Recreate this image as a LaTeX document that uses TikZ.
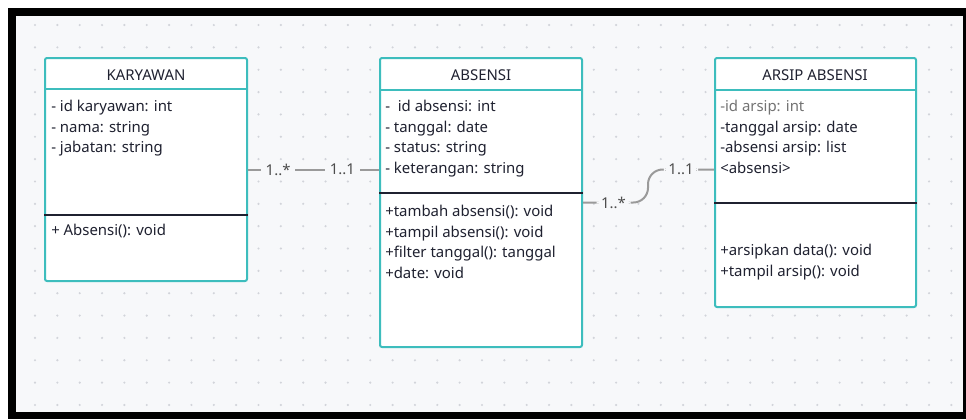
\documentclass[tikz,border=0pt]{standalone}
\usepackage{fontspec}
\setmainfont{Noto Sans}
\usetikzlibrary{fit}

\definecolor{umlteal}{HTML}{3DBDBD}
\definecolor{canvas}{HTML}{F7F8FA}
\definecolor{inkc}{HTML}{1F2130}
\definecolor{wiregray}{HTML}{9A9A9A}
\definecolor{dotgray}{HTML}{D2D4DA}

\begin{document}
\begin{tikzpicture}[
        x=0.75pt, y=-0.75pt,
        classbox/.style={draw=umlteal, line width=1.5pt, fill=white, rounded corners=1.5pt, inner sep=0pt},
        headline/.style={umlteal, line width=1.5pt},
        sepline/.style={inkc, line width=1.5pt},
        classname/.style={font=\fontsize{11.2}{13}\selectfont, text=inkc, inner sep=0pt},
        members/.style={anchor=north west, align=left, inner sep=0pt, text=inkc, font=\fontsize{11.2}{15.5}\selectfont},
        wire/.style={draw=wiregray, line width=1.5pt},
        mult/.style={fill=canvas, text=black!70, inner xsep=3.5pt, inner ysep=2pt, font=\fontsize{11.2}{13}\selectfont}
    ]
        \useasboundingbox (0,0) rectangle (966,419);

        % Frame and dotted canvas
        \fill[black] (8,8) rectangle (966,419);
        \fill[canvas] (16,16) rectangle (963,412);
        \foreach \i in {0,...,41}
            \foreach \j in {0,...,17}
                \fill[dotgray] (35+22.35*\i, 25+22.35*\j) circle[radius=0.9pt];

        % Class KARYAWAN
        \node[classbox, fit={(45,58) (247,281)}] (kary) {};
        \draw[headline] (kary.west |- 0,89) -- (kary.east |- 0,89);
        \draw[sepline] (kary.west |- 0,215) -- (kary.east |- 0,215);
        \node[classname] (kary-name) at (146,75) {KARYAWAN};
        \node[members] (kary-attr) at (51,100) {- id karyawan: int\\- nama: string\\- jabatan: string};
        \node[members] (kary-ops) at (51,224) {+ Absensi(): void};

        % Class ABSENSI
        \node[classbox, fit={(380,58) (582,347)}] (absensi) {};
        \draw[headline] (absensi.west |- 0,90) -- (absensi.east |- 0,90);
        \draw[sepline] (absensi.west |- 0,193) -- (absensi.east |- 0,193);
        \node[classname] (absensi-name) at (481,75) {ABSENSI};
        \node[members] (absensi-attr) at (385,100) {-\ \ id absensi: int\\- tanggal: date\\- status: string\\- keterangan: string};
        \node[members] (absensi-ops) at (385,205) {+tambah absensi(): void\\+tampil absensi(): void\\+filter tanggal(): tanggal\\+date: void};

        % Class ARSIP ABSENSI
        \node[classbox, fit={(715,58) (916,307)}] (arsip) {};
        \draw[headline] (arsip.west |- 0,90) -- (arsip.east |- 0,90);
        \draw[sepline] (arsip.west |- 0,203) -- (arsip.east |- 0,203);
        \node[classname] (arsip-name) at (815,75) {ARSIP ABSENSI};
        \node[members] (arsip-attr) at (720,100) {\textcolor{black!55}{-id arsip: int}\\-tanggal arsip: date\\-absensi arsip: list\\<absensi>};
        \node[members] (arsip-ops) at (720,244) {+arsipkan data(): void\\+tampil arsip(): void};

        % Associations
        \coordinate (bend) at (648,0);
        \draw[wire] (kary.east) -- node[mult, pos=0.23] (m1) {1..*} node[mult, pos=0.72] (m2) {1..1} (absensi.west |- kary.east);
        \draw[wire, rounded corners=11pt] (absensi.east) -- node[mult, pos=0.47] (m3) {1..*} (absensi.east -| bend)
            -- (bend |- kary.east) -- node[mult, pos=0.5] (m4) {1..1} (arsip.west |- kary.east);

    \end{tikzpicture}
\end{document}
